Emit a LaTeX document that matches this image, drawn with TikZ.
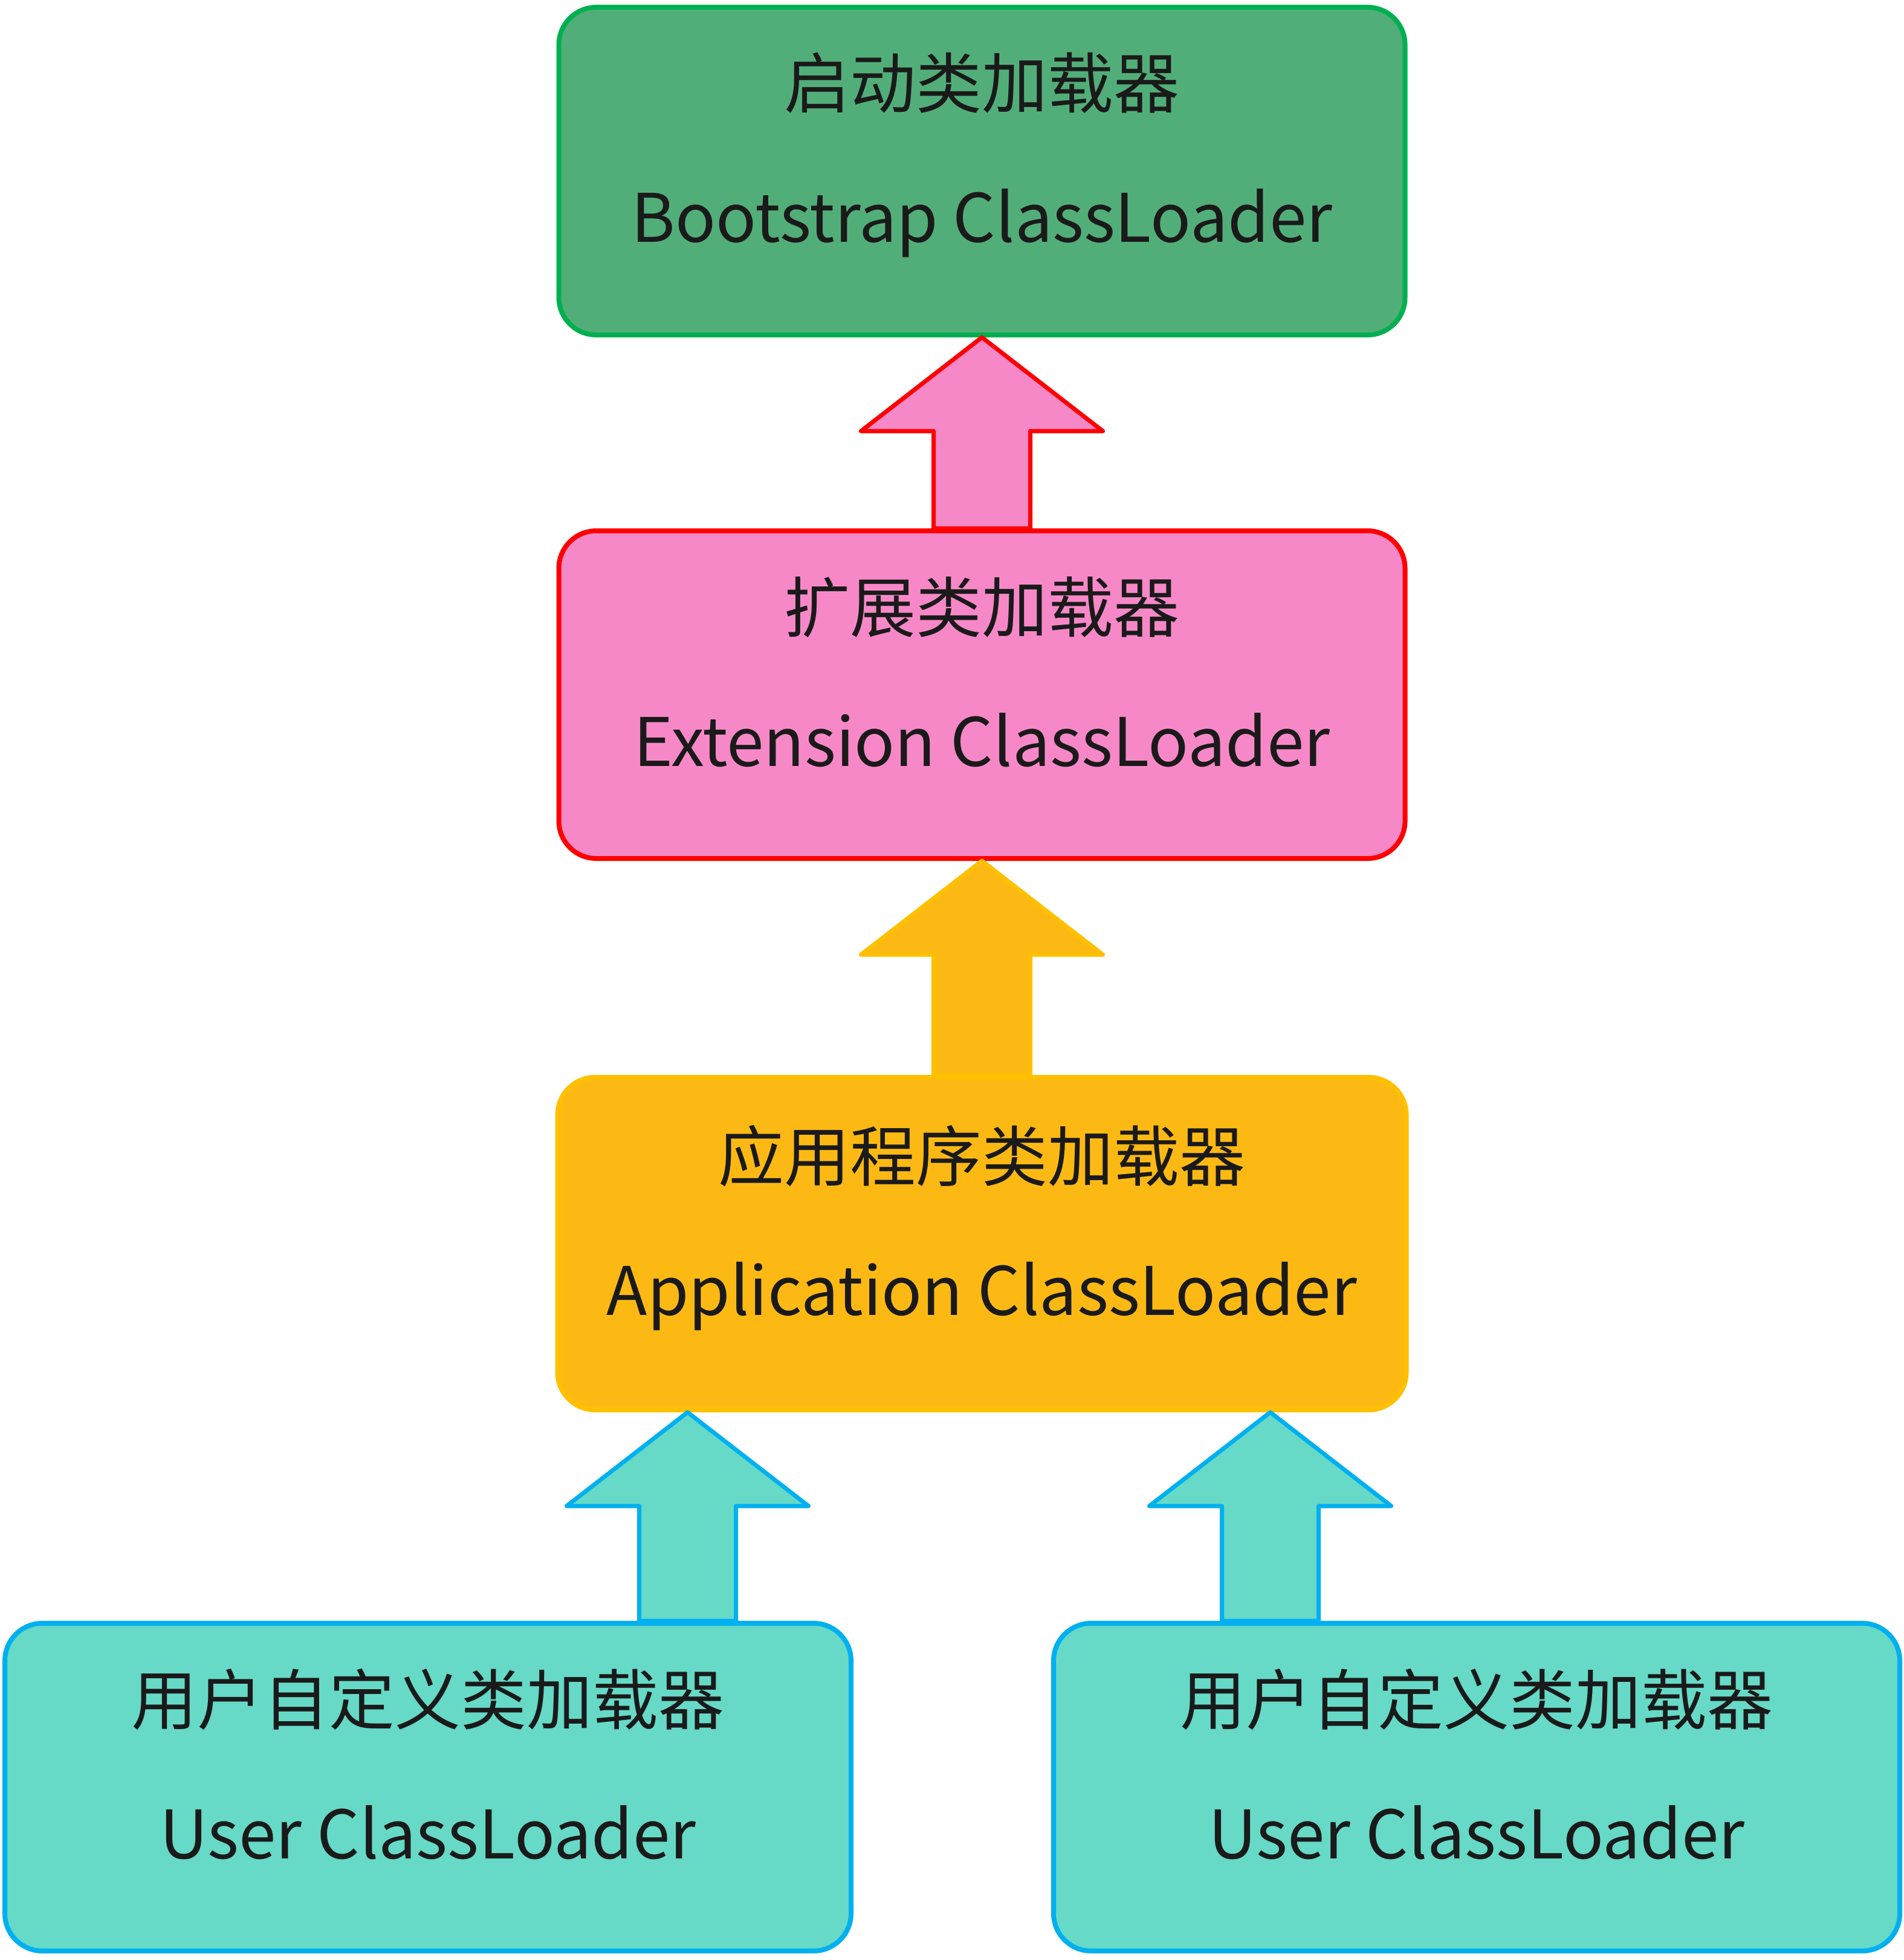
\documentclass[tikz,border=0pt]{standalone}
\usepackage{fontspec}
\setmainfont{Noto Sans CJK SC}
\usepackage{tikz}
\usetikzlibrary{calc}

\definecolor{bootfill}{RGB}{82,174,121}
\definecolor{bootline}{RGB}{0,176,80}
\definecolor{extfill}{RGB}{247,136,200}
\definecolor{extline}{RGB}{255,0,0}
\definecolor{appfill}{RGB}{253,185,19}
\definecolor{appline}{RGB}{255,192,0}
\definecolor{userfill}{RGB}{102,217,199}
\definecolor{userline}{RGB}{0,176,240}
\definecolor{txt}{RGB}{26,26,26}

% block arrow from a box top (#2) up to a tip (#3)
\newcommand{\blockarrow}[3]{%
  \draw[#1] let \p1=#2, \p2=#3 in
    (\x2-0.8cm,\y1) -- (\x2-0.8cm,\y2-1.55cm) -- (\x2-2cm,\y2-1.55cm) -- (\x2,\y2)
    -- (\x2+2cm,\y2-1.55cm) -- (\x2+0.8cm,\y2-1.55cm) -- (\x2+0.8cm,\y1) -- cycle;}

\begin{document}
\begin{tikzpicture}[
    loaderbox/.style={rounded corners=0.62cm, minimum width=14cm, minimum height=5.42cm,
      line width=0.08cm, inner sep=0pt},
    cntext/.style={anchor=base, text=txt, font=\fontsize{31}{36}\selectfont},
    entext/.style={anchor=base, text=txt, font=\fontsize{31.5}{38}\selectfont},
    arr/.style={line width=0.07cm, line join=round}]
  \useasboundingbox (0,0) rectangle (31.5,-32.42);

  \node[loaderbox, fill=bootfill, draw=bootline] (boot) at (16.245,-2.83) {};
  \node[loaderbox, fill=extfill, draw=extline] (ext) at (16.245,-11.49) {};
  \node[loaderbox, fill=appfill, draw=appline, minimum width=14.04cm, minimum height=5.5cm] (app) at (16.245,-20.57) {};
  \node[loaderbox, fill=userfill, draw=userline] (userl) at (7.08,-29.56) {};
  \node[loaderbox, fill=userfill, draw=userline] (userr) at (24.43,-29.56) {};

  \node[cntext] (bootcn) at ([yshift=1.04cm]boot.center) {启动类加载器};
  \node[entext] (booten) at ([yshift=-1.18cm]boot.center) {Bootstrap ClassLoader};
  \node[cntext] (extcn) at ([yshift=1.04cm]ext.center) {扩展类加载器};
  \node[entext] (exten) at ([yshift=-1.18cm]ext.center) {Extension ClassLoader};
  \node[cntext] (appcn) at ([yshift=1.04cm]app.center) {应用程序类加载器};
  \node[entext] (appen) at ([yshift=-1.18cm]app.center) {Application ClassLoader};
  \node[cntext] (userlcn) at ([yshift=1.04cm]userl.center) {用户自定义类加载器};
  \node[entext] (userlen) at ([yshift=-1.18cm]userl.center) {User ClassLoader};
  \node[cntext] (userrcn) at ([yshift=1.04cm]userr.center) {用户自定义类加载器};
  \node[entext] (userren) at ([yshift=-1.18cm]userr.center) {User ClassLoader};

  \blockarrow{arr, fill=extfill, draw=extline}{(ext.north)}{(boot.south)}
  \blockarrow{arr, fill=appfill, draw=appline}{(app.north)}{(ext.south)}
  \blockarrow{arr, fill=userfill, draw=userline}{(userl.north)}{([xshift=-4.87cm]app.south)}
  \blockarrow{arr, fill=userfill, draw=userline}{(userr.north)}{([xshift=4.77cm]app.south)}
\end{tikzpicture}
\end{document}
